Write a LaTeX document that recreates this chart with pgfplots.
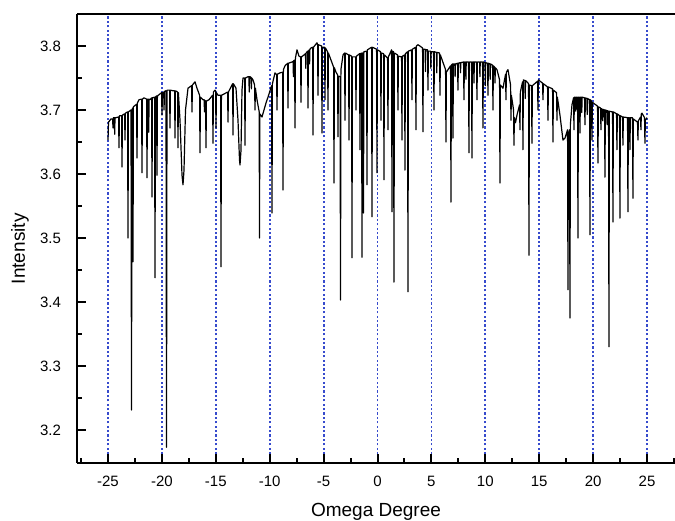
\documentclass[border=0pt]{standalone}
\usepackage{pgfplots}
\pgfplotsset{compat=1.18}
\usepackage{pgfplotstable}
\usepackage{fontspec}
\setmainfont{Liberation Sans}
\definecolor{gridblue}{RGB}{55,75,205}

% omega scan
\pgfplotstableread{
x y
-25.000 3.653
-24.954 3.681
-24.722 3.686
-24.573 3.686
-24.536 3.672
-24.499 3.688
-24.41 3.688
-24.38 3.662
-24.35 3.688
-24.258 3.688
-24.017 3.689
-23.980 3.641
-23.942 3.691
-23.738 3.691
-23.701 3.611
-23.664 3.692
-23.460 3.694
-23.423 3.653
-23.386 3.695
-23.182 3.697
-23.145 3.500
-23.108 3.697
-22.866 3.700
-22.820 3.231
-22.774 3.700
-22.718 3.703
-22.681 3.463
-22.644 3.705
-22.347 3.709
-22.310 3.625
-22.273 3.711
-22.124 3.716
-21.883 3.717
-21.846 3.602
-21.809 3.717
-21.660 3.719
-21.419 3.717
-21.382 3.594
-21.345 3.717
-21.25 3.717
-21.22 3.665
-21.19 3.717
-21.104 3.716
-20.955 3.719
-20.918 3.564
-20.881 3.719
-20.677 3.720
-20.640 3.438
-20.603 3.720
-20.492 3.722
-20.455 3.598
-20.417 3.722
-20.028 3.727
-19.991 3.692
-19.954 3.727
-19.83 3.728
-19.80 3.700
-19.77 3.729
-19.620 3.730
-19.573 3.173
-19.527 3.731
-19.286 3.731
-19.249 3.672
-19.212 3.731
-18.970 3.730
-18.822 3.730
-18.785 3.656
-18.748 3.730
-18.544 3.728
-18.507 3.641
-18.470 3.727
-18.321 3.684
-18.135 3.598
-18.043 3.583
-17.950 3.606
-17.811 3.700
-17.579 3.734
-17.245 3.738
-17.208 3.697
-17.171 3.739
-16.930 3.744
-16.744 3.734
-16.503 3.723
-16.466 3.633
-16.429 3.720
-16.187 3.716
-16.08 3.716
-16.05 3.697
-16.02 3.715
-15.946 3.714
-15.909 3.641
-15.872 3.714
-15.631 3.716
-15.297 3.723
-15.260 3.648
-15.223 3.728
-15.074 3.731
-15.019 3.730
-14.981 3.672
-14.944 3.727
-14.796 3.723
-14.555 3.723
-14.518 3.455
-14.480 3.723
-14.239 3.725
-13.905 3.728
-13.868 3.681
-13.831 3.728
-13.441 3.741
-13.404 3.661
-13.367 3.741
-13.126 3.734
-12.941 3.684
-12.802 3.622
-12.755 3.614
-12.663 3.637
-12.570 3.731
-12.477 3.750
-12.329 3.750
-12.291 3.645
-12.254 3.750
-12.013 3.752
-11.93 3.752
-11.90 3.728
-11.87 3.752
-11.827 3.752
-11.73 3.751
-11.70 3.733
-11.67 3.750
-11.549 3.747
-11.401 3.739
-11.364 3.700
-11.327 3.734
-11.178 3.716
-10.974 3.697
-10.946 3.500
-10.918 3.694
-10.714 3.689
-10.529 3.700
-10.343 3.711
-10.158 3.720
-9.824 3.738
-9.787 3.539
-9.750 3.741
-9.508 3.758
-9.360 3.755
-9.323 3.700
-9.286 3.756
-9.045 3.758
-8.803 3.759
-8.766 3.575
-8.729 3.763
-8.581 3.769
-8.340 3.773
-8.303 3.703
-8.266 3.773
-7.932 3.775
-7.83 3.776
-7.80 3.752
-7.77 3.777
-7.690 3.778
-7.653 3.672
-7.616 3.781
-7.468 3.794
-7.282 3.784
-7.134 3.783
-7.097 3.712
-7.059 3.783
-6.818 3.786
-6.68 3.788
-6.65 3.765
-6.62 3.789
-6.484 3.792
-6.447 3.703
-6.410 3.792
-6.33 3.794
-6.30 3.772
-6.27 3.795
-6.169 3.797
-6.020 3.798
-5.983 3.661
-5.946 3.798
-5.612 3.805
-5.557 3.802
-5.520 3.723
-5.483 3.802
-5.186 3.800
-5.149 3.664
-5.112 3.798
-4.908 3.798
-4.871 3.716
-4.834 3.797
-4.630 3.791
-4.593 3.700
-4.556 3.789
-4.314 3.778
-4.073 3.767
-4.036 3.586
-3.999 3.766
-3.851 3.759
-3.702 3.755
-3.665 3.658
-3.628 3.753
-3.470 3.752
-3.432 3.403
-3.395 3.763
-3.200 3.786
-3.052 3.789
-3.015 3.684
-2.978 3.789
-2.681 3.786
-2.644 3.653
-2.607 3.786
-2.403 3.784
-2.366 3.469
-2.329 3.783
-2.032 3.783
-1.995 3.700
-1.958 3.784
-1.661 3.788
-1.624 3.638
-1.587 3.788
-1.476 3.789
-1.439 3.470
-1.402 3.789
-1.337 3.789
-1.299 3.539
-1.262 3.791
-1.012 3.792
-0.975 3.583
-0.938 3.794
-0.548 3.798
-0.511 3.533
-0.474 3.798
-0.085 3.795
-0.048 3.602
-0.011 3.794
0.286 3.791
0.323 3.684
0.360 3.789
0.564 3.788
0.601 3.591
0.638 3.786
0.935 3.781
0.972 3.669
1.009 3.783
1.306 3.794
1.343 3.541
1.380 3.792
1.491 3.791
1.528 3.431
1.566 3.789
1.862 3.786
1.899 3.700
1.937 3.784
2.233 3.783
2.270 3.653
2.308 3.784
2.512 3.786
2.549 3.606
2.586 3.788
2.790 3.791
2.827 3.416
2.864 3.792
3.161 3.794
3.198 3.716
3.235 3.795
3.532 3.798
3.569 3.669
3.606 3.800
3.755 3.802
4.181 3.797
4.218 3.666
4.255 3.795
4.42 3.795
4.45 3.760
4.48 3.794
4.645 3.794
4.682 3.731
4.719 3.792
4.92 3.792
4.95 3.765
4.98 3.791
5.201 3.791
5.238 3.700
5.275 3.791
5.47 3.790
5.50 3.758
5.53 3.790
5.758 3.789
5.795 3.723
5.832 3.786
6.166 3.770
6.314 3.763
6.351 3.650
6.388 3.759
6.537 3.763
6.778 3.769
6.815 3.556
6.852 3.770
6.963 3.772
7.000 3.656
7.037 3.772
7.17 3.772
7.20 3.752
7.23 3.772
7.427 3.773
7.464 3.731
7.501 3.773
7.67 3.774
7.70 3.758
7.73 3.774
7.983 3.775
8.021 3.716
8.058 3.775
8.17 3.775
8.20 3.748
8.23 3.775
8.447 3.775
8.484 3.633
8.521 3.775
8.725 3.775
8.762 3.625
8.800 3.775
8.92 3.775
8.95 3.742
8.98 3.775
9.189 3.775
9.226 3.716
9.264 3.775
9.47 3.775
9.50 3.752
9.53 3.775
9.746 3.775
9.783 3.672
9.820 3.775
9.97 3.774
10.00 3.738
10.03 3.774
10.210 3.773
10.247 3.723
10.284 3.773
10.42 3.772
10.45 3.748
10.48 3.772
10.674 3.770
10.711 3.700
10.748 3.769
10.87 3.767
10.90 3.742
10.93 3.766
11.082 3.763
11.323 3.747
11.360 3.586
11.397 3.739
11.639 3.734
11.880 3.756
11.917 3.716
11.954 3.759
12.102 3.763
12.344 3.739
12.381 3.684
12.418 3.723
12.622 3.700
12.659 3.645
12.696 3.688
12.798 3.680
12.937 3.692
13.178 3.708
13.215 3.669
13.252 3.728
13.456 3.744
13.493 3.638
13.531 3.747
13.67 3.746
13.70 3.718
13.73 3.746
13.865 3.744
14.013 3.741
14.050 3.473
14.087 3.739
14.291 3.738
14.328 3.648
14.366 3.738
14.848 3.745
14.885 3.700
14.922 3.747
15.312 3.742
15.349 3.716
15.386 3.741
15.776 3.736
15.813 3.684
15.850 3.736
16.240 3.733
16.277 3.650
16.314 3.731
16.611 3.727
16.648 3.684
16.685 3.720
16.926 3.692
17.204 3.653
17.390 3.656
17.631 3.669
17.668 3.419
17.705 3.661
17.816 3.669
17.853 3.375
17.890 3.677
18.039 3.708
18.187 3.719
18.224 3.669
18.261 3.720
18.37 3.720
18.40 3.698
18.43 3.720
18.558 3.720
18.595 3.500
18.632 3.720
18.744 3.720
18.781 3.664
18.818 3.720
18.92 3.720
18.95 3.696
18.98 3.720
19.207 3.719
19.244 3.677
19.282 3.719
19.42 3.718
19.45 3.693
19.48 3.718
19.671 3.716
19.708 3.505
19.745 3.716
19.857 3.714
19.894 3.653
19.931 3.712
20.413 3.706
20.450 3.617
20.487 3.705
20.691 3.703
20.728 3.669
20.765 3.702
20.87 3.701
20.90 3.683
20.93 3.701
21.062 3.700
21.099 3.595
21.136 3.700
21.27 3.699
21.30 3.677
21.33 3.699
21.433 3.698
21.470 3.330
21.507 3.698
21.804 3.697
21.841 3.525
21.878 3.697
22.175 3.694
22.212 3.638
22.249 3.694
22.453 3.691
22.490 3.531
22.527 3.691
22.731 3.689
22.768 3.645
22.805 3.689
23.194 3.688
23.232 3.541
23.269 3.688
23.380 3.688
23.417 3.638
23.454 3.688
23.658 3.688
23.695 3.562
23.732 3.686
24.122 3.681
24.159 3.653
24.196 3.683
24.400 3.689
24.437 3.669
24.474 3.694
24.530 3.695
24.771 3.688
24.808 3.648
24.845 3.684
25.000 3.688
}\scan

\begin{document}
\begin{tikzpicture}
\begin{axis}[
    scale only axis,
    width=299pt, height=224.5pt,
    xmin=-27.876, xmax=27.597,
    ymin=3.1484, ymax=3.85,
    axis lines=left,
    axis line style={-, line width=1.4pt},
    tick align=inside,
    xtick={-25,-20,-15,-10,-5,0,5,10,15,20,25},
    ytick={3.2,3.3,3.4,3.5,3.6,3.7,3.8},
    minor xtick={-27.5,-22.5,-17.5,-12.5,-7.5,-2.5,2.5,7.5,12.5,17.5,22.5,27.5},
    minor ytick={3.25,3.35,3.45,3.55,3.65,3.75},
    major tick length=4.5pt, minor tick length=2.5pt,
    tick style={black, line width=1pt},
    xmajorgrids,
    major grid style={draw=gridblue, line width=0.9pt, line cap=butt, dash pattern=on 1.1pt off 1.1pt},
    /pgf/number format/assume math mode=true,
    tick label style={font=\fontsize{7.5}{9}\selectfont},
    xticklabel style={yshift=-3pt},
    yticklabel style={xshift=-4.5pt,
        /pgf/number format/fixed,
        /pgf/number format/fixed zerofill,
        /pgf/number format/precision=1},
    xlabel={Omega Degree}, ylabel={Intensity},
    label style={font=\fontsize{9.5}{11}\selectfont},
    xlabel style={at={(axis description cs:0.5,-0.108)}, anchor=center},
    ylabel style={at={(axis description cs:-0.0953,0.477)}, anchor=center},
]
\addplot[black, line width=0.6pt, line join=round] table {\scan};
\draw[line width=1.4pt] (rel axis cs:0,1) -- (rel axis cs:1,1);
\end{axis}
\pgfresetboundingbox
\path[use as bounding box] ([xshift=-38.5pt,yshift=-29pt]current axis.south west)
    rectangle ([yshift=7pt]current axis.north east);
\end{tikzpicture}
\end{document}
